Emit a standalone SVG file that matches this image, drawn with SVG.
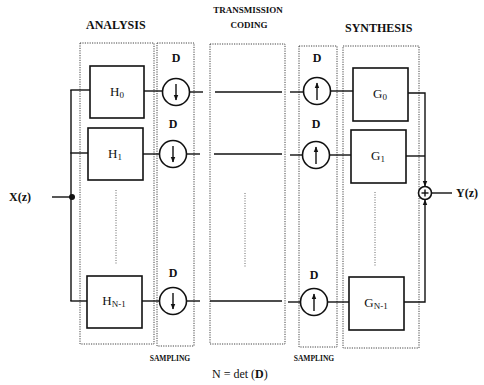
<svg xmlns="http://www.w3.org/2000/svg" width="484" height="385" viewBox="0 0 484 385">
<defs>
<style>
.bg{fill:#fff}
.zone{fill:none;stroke:#444;stroke-width:1;stroke-dasharray:1.2,1.2}
.dots{fill:none;stroke:#666;stroke-width:1;stroke-dasharray:1,1.5}
.blk{fill:#fff;stroke:#111;stroke-width:1.6}
.op{fill:#fff;stroke:#111;stroke-width:1.6}
.ln{fill:none;stroke:#111;stroke-width:1.4}
.t{font-family:"Liberation Serif","Times New Roman",serif;fill:#111}
.title{font-size:12px;font-weight:bold}
.small{font-size:9px;font-weight:bold}
.tiny{font-size:7.5px;font-weight:bold}
.d{font-size:12px;font-weight:bold;text-anchor:middle}
.lab{font-size:13px;text-anchor:middle}
</style>
<marker id="ah" viewBox="0 0 10 10" refX="9" refY="5" markerWidth="5" markerHeight="5" orient="auto-start-reverse">
<path d="M0,1 L10,5 L0,9 z" fill="#111"/>
</marker>
<marker id="sa" viewBox="0 0 10 10" refX="9" refY="5" markerWidth="4" markerHeight="4" orient="auto">
<path d="M0,1 L10,5 L0,9 z" fill="#111"/>
</marker>
</defs>
<rect class="bg" x="0" y="0" width="484" height="385"/>

<g id="labels">
<text class="t title" x="86" y="29">ANALYSIS</text>
<text class="t small" x="248" y="13" text-anchor="middle">TRANSMISSION</text>
<text class="t small" x="249" y="28" text-anchor="middle">CODING</text>
<text class="t title" x="345" y="32">SYNTHESIS</text>
<text class="t tiny" x="170" y="361" text-anchor="middle">SAMPLING</text>
<text class="t tiny" x="314" y="361" text-anchor="middle">SAMPLING</text>
<text class="t" x="212" y="378" font-size="12">N = det (<tspan font-weight="bold">D</tspan>)</text>
<text class="t" x="9" y="201" font-size="12" font-weight="bold">X(z)</text>
<text class="t" x="456" y="197" font-size="12" font-weight="bold">Y(z)</text>
</g>

<g id="zones">
<rect class="zone" x="80" y="43" width="74" height="301"/>
<rect class="zone" x="157" y="43" width="37" height="303"/>
<rect class="zone" x="210" y="44" width="75" height="300"/>
<rect class="zone" x="299" y="46" width="38" height="301"/>
<rect class="zone" x="343" y="46" width="76" height="302"/>
<line class="dots" x1="116" y1="190" x2="116" y2="265"/>
<line class="dots" x1="245" y1="193" x2="245" y2="267"/>
<line class="dots" x1="375" y1="192" x2="375" y2="267"/>
</g>

<g id="connectors">
<line class="ln" x1="52" y1="197" x2="72" y2="197"/>
<circle cx="72" cy="197" r="3" fill="#111"/>
<line class="ln" x1="71" y1="90" x2="71" y2="301"/>
<line class="ln" x1="70.3" y1="90" x2="90" y2="90"/>
<line class="ln" x1="70.3" y1="153" x2="88" y2="153"/>
<line class="ln" x1="70.3" y1="301" x2="87" y2="301"/>
<line class="ln" x1="144" y1="91" x2="162" y2="91"/>
<line class="ln" x1="143" y1="154" x2="159" y2="154"/>
<line class="ln" x1="142" y1="301" x2="159" y2="301"/>
<line class="ln" x1="190" y1="92" x2="203" y2="92"/>
<line class="ln" x1="187" y1="154" x2="200" y2="154"/>
<line class="ln" x1="187" y1="301" x2="200" y2="301"/>
<line class="ln" x1="215" y1="92" x2="282" y2="92"/>
<line class="ln" x1="214" y1="154" x2="282" y2="154"/>
<line class="ln" x1="210" y1="301" x2="282" y2="301"/>
<line class="ln" x1="290" y1="92" x2="303" y2="92"/>
<line class="ln" x1="290" y1="155" x2="302" y2="155"/>
<line class="ln" x1="288" y1="302" x2="300" y2="302"/>
<line class="ln" x1="331" y1="91" x2="353" y2="91"/>
<line class="ln" x1="330" y1="155" x2="351" y2="155"/>
<line class="ln" x1="328" y1="302" x2="349" y2="302"/>
<polyline class="ln" points="408,93 425,93 425,186" marker-end="url(#sa)"/>
<line class="ln" x1="406" y1="156" x2="425" y2="156"/>
<polyline class="ln" points="404,302 425,302 425,200" marker-end="url(#sa)"/>
<line class="ln" x1="431" y1="193" x2="452" y2="193"/>
</g>

<g id="H0"><rect class="blk" x="90" y="66" width="54" height="52"/><text class="t lab" x="117" y="96">H<tspan font-size="9" dy="2">0</tspan></text></g>
<g id="H1"><rect class="blk" x="88" y="128" width="55" height="52"/><text class="t lab" x="115" y="158">H<tspan font-size="9" dy="2">1</tspan></text></g>
<g id="HN1"><rect class="blk" x="87" y="276" width="55" height="52"/><text class="t lab" x="114" y="305">H<tspan font-size="9" dy="2">N-1</tspan></text></g>

<g id="down0"><circle class="op" cx="176" cy="92" r="13.5"/><line class="ln" x1="176" y1="84" x2="176" y2="100" marker-end="url(#sa)"/><text class="t d" x="176" y="62">D</text></g>
<g id="down1"><circle class="op" cx="173" cy="154" r="13.5"/><line class="ln" x1="173" y1="146" x2="173" y2="162" marker-end="url(#sa)"/><text class="t d" x="173" y="128">D</text></g>
<g id="downN1"><circle class="op" cx="173" cy="301" r="13.5"/><line class="ln" x1="173" y1="293" x2="173" y2="309" marker-end="url(#sa)"/><text class="t d" x="173" y="277">D</text></g>

<g id="up0"><circle class="op" cx="317" cy="91" r="13.5"/><line class="ln" x1="317" y1="100" x2="317" y2="83" marker-end="url(#sa)"/><text class="t d" x="317" y="62">D</text></g>
<g id="up1"><circle class="op" cx="316" cy="155" r="13.5"/><line class="ln" x1="316" y1="164" x2="316" y2="147" marker-end="url(#sa)"/><text class="t d" x="316" y="128">D</text></g>
<g id="upN1"><circle class="op" cx="314" cy="302" r="13.5"/><line class="ln" x1="314" y1="311" x2="314" y2="294" marker-end="url(#sa)"/><text class="t d" x="314" y="279">D</text></g>

<g id="G0"><rect class="blk" x="353" y="68" width="55" height="53"/><text class="t lab" x="380" y="98">G<tspan font-size="9" dy="2">0</tspan></text></g>
<g id="G1"><rect class="blk" x="351" y="130" width="55" height="53"/><text class="t lab" x="378" y="160">G<tspan font-size="9" dy="2">1</tspan></text></g>
<g id="GN1"><rect class="blk" x="349" y="277" width="55" height="53"/><text class="t lab" x="376" y="307">G<tspan font-size="9" dy="2">N-1</tspan></text></g>

<g id="sum"><circle class="op" cx="425" cy="193" r="6.5"/><line class="ln" x1="425" y1="189.5" x2="425" y2="196.5" stroke-width="1"/><line class="ln" x1="421.5" y1="193" x2="428.5" y2="193" stroke-width="1"/></g>
</svg>
